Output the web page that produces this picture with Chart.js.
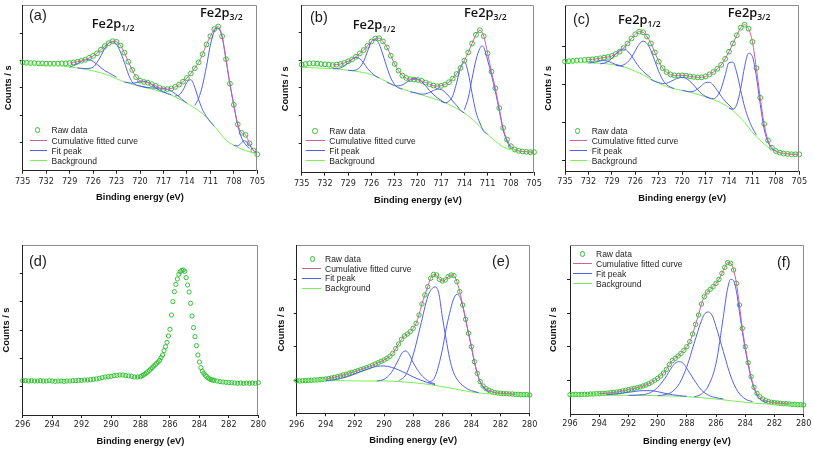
<!DOCTYPE html>
<html><head><meta charset="utf-8">
<script src="https://cdn.jsdelivr.net/npm/chart.js@4.4.1/dist/chart.umd.min.js"></script>
<style>
html,body{margin:0;padding:0;background:#fff;}
#wrap{position:relative;width:813px;height:449px;overflow:hidden;background:#fff;}
#wrap canvas{position:absolute;}
.tag{position:absolute;font-family:'Liberation Sans',Arial,sans-serif;font-size:14.5px;line-height:1;color:#1a1a1a;white-space:nowrap;}
.fe{position:absolute;font-family:'Open Sans','Liberation Sans',sans-serif;font-weight:600;font-size:12.8px;line-height:1;color:#111;white-space:nowrap;}
.fe span{font-size:8.6px;position:relative;top:3px;}
.leg{position:absolute;font-family:'Liberation Sans',Arial,sans-serif;font-size:8.5px;color:#1e1e1e;line-height:12px;height:12px;white-space:nowrap;}
.lline{position:absolute;height:0;border-top:1.3px solid;}
.lcirc{position:absolute;width:3.4px;height:3.4px;border:1.1px solid #33c133;border-radius:50%;}
</style></head><body><div id="wrap"></div>
<script>
// ---------- categories (binding energy, eV) ----------
const eTop = [735,734.5,734,733.5,733,732.5,732,731.5,731,730.5,730,729.5,729,728.5,728,727.5,727,726.5,726,725.5,725,724.5,724,723.5,723,722.5,722,721.5,721,720.5,720,719.5,719,718.5,718,717.5,717,716.5,716,715.5,715,714.5,714,713.5,713,712.5,712,711.5,711,710.5,710,709.5,709,708.5,708,707.5,707,706.5,706,705.5,705];
const eTopBg = [735,734,733,732,731,730,729,728,727,726,725,724,723,722,721,720,719,718,717,716,715,714,713,712,711,710,709,708,707,706,705];
const eBot = [296,295.8,295.6,295.4,295.2,295,294.8,294.6,294.4,294.2,294,293.8,293.6,293.4,293.2,293,292.8,292.6,292.4,292.2,292,291.8,291.6,291.4,291.2,291,290.8,290.6,290.4,290.2,290,289.8,289.6,289.4,289.2,289,288.8,288.6,288.4,288.2,288,287.8,287.6,287.4,287.2,287,286.8,286.6,286.4,286.2,286,285.8,285.6,285.4,285.2,285,284.8,284.6,284.4,284.2,284,283.8,283.6,283.4,283.2,283,282.8,282.6,282.4,282.2,282,281.8,281.6,281.4,281.2,281,280.8,280.6,280.4,280.2,280];
const eBotBg = [296,295,294,293,292,291,290,289,288,287,286,285,284,283,282,281,280];
const eD = [296,295.8,295.6,295.4,295.2,295,294.8,294.6,294.4,294.2,294,293.8,293.6,293.4,293.2,293,292.8,292.6,292.4,292.2,292,291.8,291.6,291.4,291.2,291,290.8,290.6,290.4,290.2,290,289.8,289.6,289.4,289.2,289,288.8,288.6,288.4,288.2,
 288,287.9,287.8,287.7,287.6,287.5,287.4,287.3,287.2,287.1,287,286.9,286.8,286.7,286.6,286.5,286.4,286.3,286.2,286.1,286,285.9,285.8,285.7,285.6,285.5,285.4,285.3,285.2,285.1,285,284.9,284.8,284.7,284.6,284.5,284.4,284.3,284.2,284.1,284,283.9,283.8,283.7,283.6,283.5,283.4,283.3,283.2,283.1,283,
 282.8,282.6,282.4,282.2,282,281.8,281.6,281.4,281.2,281,280.8,280.6,280.4,280.2,280];
const xTicksTop = [735,732,729,726,723,720,717,714,711,708,705];
const xTicksBot = [296,294,292,290,288,286,284,282,280];

// ---------- (a) ----------
const rawA = [332,331,330,330,329,329,328,328,328,328,329,329,330,332,334,337,340,346,352,360,371,382,391,397,395,384,362,334,309,287,276,272,270,265,260,254,250,250,252,257,264,273,284,298,314,332,357,387,412,434,442,412,342,267,202,142,116,110,84,62,50];
const cumA = [330,332,334,337,340,346,352,360,371,382,391,397,395,384,362,334,309,287,276,272,270,265,260,254,250,250,252,257,264,273,284,298,314,332,357,387,412,434,442,412,342,267,202,142,116,110,84,62,50];
const bgA = [328,327,326,324,323,321,318,315,311,306,300,292,282,272,265,259,253,247,240,232,220,207,192,175,150,122,94,78,66,58,52];
const peakEA = [
 [729,728.5,728,727.5,727,726.5,726,725.5,725,724.5,724,723],
 [728,727,726,725.5,725,724.5,724,723.5,723,722.5,722,721.5,721,720.5,720,719],
 [722,721.5,721,720.5,720,719.5,719,718.5,718,717.5,717,716],
 [720,719,718,717.5,717,716.5,716,715.5,715,714.5,714],
 [715.5,715,714.5,714,713.5,713,712.5,712,711.5,711,710.5],
 [713,712.5,712,711.5,711,710.5,710.2,710,709.5,709,708.5,708,707.5,707,706.5,706],
 [708,707.5,707,706.75,706.5,706,705.5,705]];
const peakYA = [
 [318,322,328,335,340,340,335,326,316,307,300,287],
 [315,313,317,332,352,375,391,395,387,364,332,297,272,263,260,254],
 [272,270,268,270,273,274,271,264,255,247,241,233],
 [259,255,253,253,252,249,244,236,227,216,208],
 [229,232,247,271,279,256,218,187,166,150,136],
 [200,222,262,320,385,428,438,437,410,340,265,200,140,100,80,68],
 [78,76,86,92,91,78,62,53]];
const yTicksA = [87,170,255,337,422];

// ---------- (b) ----------
const rawB = [326,328,330,330,329,328,327,326,325,326,328,331,336,342,350,360,370,383,396,405,406,396,378,353,328,308,293,286,282,281,280,277,272,267,263,261,262,266,273,284,298,316,338,363,390,416,430,412,360,305,255,195,135,100,80,70,66,64,63,62,62];
const cumB = [325,326,328,331,336,342,350,360,370,383,396,405,406,396,378,353,328,308,293,286,282,281,280,277,272,267,263,261,262,266,273,284,298,316,338,363,390,416,430,412,360,305,255,195,135,100,80,70,66,64,63,62,62];
const bgB = [318,317,316,315,314,312,309,306,302,296,286,274,262,253,245,238,231,224,216,206,194,180,162,140,116,95,78,69,65,64,63];
const peakEB = [
 [731,730.5,730,729.5,729,728.5,728,727.5,727,726.5,726,725.5,725],
 [729,728.5,728,727.5,727,726.5,726,725.5,725,724.5,724,723.5,723,722.5,722],
 [724,723.5,723,722.5,722,721.5,721,720.5,720,719.5,719,718.5,718,717.5,717,716.5],
 [721,720.5,720,719.5,719,718.5,718,717.5,717,716.5,716,715.5,715,714.5,714],
 [717,716.5,716,715.5,715,714.5,714,713.5,713,712.5,712,711.5,711],
 [714,713.5,713,712.5,712,711.75,711.5,711,710.5,710,709.5,709,708.5,708]];
const peakYB = [
 [314,314,316,322,331,342,348,344,331,314,302,292,286],
 [309,308,310,318,336,366,396,402,388,355,318,286,266,256,252],
 [273,268,263,262,265,272,280,284,282,274,262,248,236,226,218,211],
 [244,242,239,237,238,242,248,252,251,243,231,216,203,188,180],
 [216,211,216,232,271,317,335,301,239,183,150,125,116],
 [190,225,285,340,375,383,378,340,295,245,188,130,95,75]];
const yTicksB = [88,173,256,340,423];

// ---------- (c) ----------
const rawC = [335,336,337,338,339,340,341,342,343,345,347,349,352,358,365,376,390,405,418,426,424,411,390,363,335,315,303,296,293,292,293,292,290,288,287,287,290,296,303,313,325,343,365,390,415,438,447,435,395,315,225,145,95,73,63,58,55,54,53,53,53];
const cumC = [341,342,343,345,347,349,352,358,365,376,390,405,418,426,424,411,390,363,335,315,303,296,293,292,293,292,290,288,287,287,290,296,303,313,325,343,365,390,415,438,447,435,395,315,225,145,95,73,63,58,55,54,53,53,53];
const bgC = [333,333,332,331,330,329,326,322,315,305,295,280,269,259,252,247,242,235,228,219,209,195,175,150,120,95,75,63,57,54,53];
const peakEC = [
 [732,731.5,731,730.5,730,729.5,729,728.5,728,727.5],
 [730.5,730,729.5,729,728.5,728,727.5,727,726.5,726,725.5,725,724.5,724],
 [728.5,728,727.5,727,726.5,726,725.5,725,724.5,724,723.5,723,722.5,722,721.5,721],
 [724,723.5,723,722.5,722,721.5,721,720.5,720,719.5,719,718.5,718,717.5,717,716.5],
 [720,719.5,719,718.5,718,717.5,717,716.5,716,715.5,715,714.5,714,713.5],
 [717,716.5,716,715.5,715,714.5,714,713.5,713,712.5,712,711.5,711,710.5],
 [714,713.5,713,712.5,712,711.5,711,710.5,710,709.5,709,708.5,708]];
const peakYC = [
 [331,332,334,337,338,336,331,326,323,319],
 [328,330,335,345,358,369,373,367,353,335,318,305,295,285],
 [323,322,325,333,347,368,388,397,390,368,337,305,280,265,257,253],
 [281,275,271,268,269,274,280,285,287,284,275,263,249,237,229,224],
 [248,245,243,245,252,262,271,272,263,247,230,215,203,190],
 [228,224,222,230,253,293,332,333,300,247,197,160,133,112],
 [193,190,205,253,320,360,350,290,205,130,90,70,63]];
const yTicksC = [33,150,265,380];

// ---------- (d) ----------
const rawD = [103,103,102,103,102,102,103,102,102,103,102,101,102,102,101,102,102,103,103,104,104,105,105,106,107,108,110,112,114,115,116,118,119,120,120,118,117,116,114,114,
 115,118,120,123,126,130,134,138,142,147,151,155,159,164,172,180,193,205,218,237,257,300,340,370,392,408,422,430,434,435,431,412,390,369,335,297,262,235,208,180,159,142,131,125,119,115,111,108,106,105,104,
 102,100,99,98,97,97,96,95,96,95,96,95,96,95,97];
const yTicksD = [85,170,255,340,425];

// ---------- (e) ----------
const rawE = [98,97,98,98,99,99,100,100,101,102,103,104,106,108,110,112,115,117,120,123,125,128,131,134,137,140,144,148,152,156,160,165,171,180,194,208,222,232,238,245,255,270,295,328,355,380,405,417,415,402,397,400,410,415,413,395,365,325,282,240,200,155,120,95,82,74,69,65,62,61,60,59,59,58,58,57,57,56,56,56,55];
const cumE = [103,104,106,108,110,112,115,117,120,123,125,128,131,134,137,140,144,148,152,156,160,165,171,180,194,208,222,232,238,245,255,270,295,328,355,380,405,417,415,402,397,400,410,415,413,395,365,325,282,240,200,155,120,95,82,74,69,65,62,61,60,59,59,58,58,57];
const bgE = [98,98,98,98,97,97,97,95,92,87,80,72,64,59,57,56,55];
const peakEE = [
 [294,293.5,293,292.5,292,291.5,291,290.5,290,289.5,289,288.5,288,287.5,287,286.5],
 [290.5,290,289.5,289,288.75,288.5,288.25,288,287.5,287,286.5],
 [289,288.5,288,287.5,287,286.75,286.5,286.25,286,285.75,285.5,285.25,285,284.5,284,283.5],
 [287,286.5,286,285.75,285.5,285.25,285,284.8,284.6,284.4,284.2,284,283.8,283.6,283.4,283.2,283,282.8]];
const peakYE = [
 [98,100,104,110,118,127,135,141,142,138,130,120,109,100,92,86],
 [97,102,122,162,182,187,175,152,118,98,88],
 [97,116,175,262,350,372,379,362,290,225,165,125,103,80,68,62],
 [90,110,190,250,300,340,357,350,322,282,240,198,155,120,94,79,70,65]];
const yTicksE = [98,200,300,402];

// ---------- (f) ----------
const rawF = [58,58,59,58,59,59,59,60,60,61,61,62,62,63,64,65,66,67,69,71,73,75,77,79,81,84,87,91,96,101,107,114,123,134,148,160,167,174,182,191,202,217,240,269,297,330,352,366,374,382,392,404,422,440,454,452,432,392,327,257,202,154,112,80,62,52,45,40,37,35,34,33,32,31,31,30,29,29,28,28,27];
const cumF = [61,62,62,63,64,65,66,67,69,71,73,75,77,79,81,84,87,91,96,101,107,114,123,134,148,160,167,174,182,191,202,217,240,269,297,330,352,366,374,382,392,404,422,440,454,452,432,392,327,257,202,154,112,80,62,52,45,40,37,35,34,33,32,31,31,30];
const bgF = [57,57,57,56,56,56,55,54,52,49,45,40,35,31,29,27,26];
const peakEF = [
 [293.5,293,292.5,292,291.5,291,290.5,290,289.5,289,288.5,288],
 [292,291,290.5,290,289.5,289,288.75,288.5,288.25,288,287.5,287,286.5,286,285.5],
 [290,289.5,289,288.5,288,287.5,287,286.75,286.5,286.25,286,285.5,285,284.5,284,283.5],
 [287.5,287,286.5,286,285.5,285.25,285,284.8,284.6,284.4,284.2,284,283.8,283.6,283.4,283.2,283,282.8,282.5]];
const peakYF = [
 [58,60,62,65,68,70,70,67,62,58,55,53],
 [56,58,64,80,107,142,154,157,152,137,102,72,56,49,45],
 [55,58,67,92,142,212,280,302,306,294,262,187,114,67,45,37],
 [51,60,87,152,292,367,404,400,367,307,247,194,147,107,77,57,45,39,34]];
const yTicksF = [100,202,302,404];

const legendLabels = ['Raw data','Cumulative fitted curve','Fit peak','Background'];

// ---------- styles / geometry ----------
const C_RAW = '#33c133', C_CUM = '#d0609a', C_PEAK = '#5060ee', C_BG = '#78f056';
const panels = [
 {id:'a', g:{left:0,top:0,w:270,h:210,padT:1.3,padR:12.7,padB:2,yw:22.7,xh:37.3,tickPad:2.6,xtp:5.1,ytp:2.7,pr:2.4},
  xr:[705,735], xt:xTicksTop, yt:yTicksA, ymax:508,
  raw:[eTop,rawA], cum:[eTop.slice(12),cumA], bg:[eTopBg,bgA], pe:peakEA, py:peakYA},
 {id:'b', g:{left:276,top:0,w:268,h:210,padT:4,padR:8.3,padB:2,yw:25.7,xh:35.3,tickPad:2.2,xtp:2.4,ytp:3.4,pr:2.4},
  xr:[705,735], xt:xTicksTop, yt:yTicksB, ymax:506,
  raw:[eTop,rawB], cum:[eTop.slice(8),cumB], bg:[eTopBg,bgB], pe:peakEB, py:peakYB},
 {id:'c', g:{left:540,top:0,w:273,h:210,padT:2.7,padR:13.7,padB:2,yw:25,xh:36.3,tickPad:1.6,xtp:4.1,ytp:2.4,pr:2.4},
  xr:[705,735], xt:xTicksTop, yt:yTicksC, ymax:507,
  raw:[eTop,rawC], cum:[eTop.slice(6),cumC], bg:[eTopBg,bgC], pe:peakEC, py:peakYC},
 {id:'d', g:{left:0,top:228,w:270,h:221,padT:17,padR:11.7,padB:1,yw:22.7,xh:33,tickPad:1.6,xtp:0.7,ytp:0.7,pr:2.1},
  xr:[280,296], xt:xTicksBot, yt:yTicksD, ymax:510,
  raw:[eD,rawD]},
 {id:'e', g:{left:272,top:228,w:268,h:221,padT:17,padR:8.3,padB:1,yw:24.7,xh:34.7,tickPad:2.6,xtp:1.7,ytp:4.1,pr:2.2},
  xr:[280,296], xt:xTicksBot, yt:yTicksE, ymax:505,
  raw:[eBot,rawE], cum:[eBot.slice(10,76),cumE], bg:[eBotBg,bgE], pe:peakEE, py:peakYE},
 {id:'f', g:{left:540,top:228,w:273,h:221,padT:17,padR:8.7,padB:1,yw:30,xh:34,tickPad:1.6,xtp:1.4,ytp:8.2,pr:2.2},
  xr:[280,296], xt:xTicksBot, yt:yTicksF, ymax:507,
  raw:[eBot,rawF], cum:[eBot.slice(10,76),cumF], bg:[eBotBg,bgF], pe:peakEF, py:peakYF}
];

const tags = [
 {t:'(a)',x:29,y:8.3},{t:'(b)',x:310,y:10.3},{t:'(c)',x:573,y:12.3},
 {t:'(d)',x:29,y:254.3},{t:'(e)',x:492,y:254.3},{t:'(f)',x:777,y:255.3}];
const feLabels = [
 {m:'Fe2p',s:'1/2',x:91.7,y:16.8},{m:'Fe2p',s:'3/2',x:200,y:5.6},
 {m:'Fe2p',s:'1/2',x:352.7,y:17.6},{m:'Fe2p',s:'3/2',x:464,y:5.8},
 {m:'Fe2p',s:'1/2',x:618,y:12.6},{m:'Fe2p',s:'3/2',x:727.7,y:5.6}];
const legends = [
 {l:30,r:47,cx:37.7,tx:51.5,rows:[130,140.7,150.7,161]},
 {l:306,r:325,cx:315,tx:329.3,rows:[131,141,151,161]},
 {l:570,r:587,cx:577.7,tx:591.7,rows:[131,141,151,161]},
 {l:302.3,r:320.7,cx:312.3,tx:325,rows:[259,269,278.3,288.3]},
 {l:573.3,r:591.7,cx:582.7,tx:596,rows:[254,264,274,284]}];

const TICK_FONT = "'Liberation Sans Narrow','Arial Narrow','DejaVu Sans Condensed','Liberation Sans',Arial,sans-serif";
const TXT_FONT = "'Liberation Sans',Arial,sans-serif";

const framePlugin = {
  id:'frame',
  afterDraw(chart){
    const {ctx, chartArea:a} = chart;
    ctx.save();
    ctx.strokeStyle = '#8c8c8c'; ctx.lineWidth = 1;
    const t = Math.round(a.top)+0.5, r = Math.round(a.right)-0.5;
    ctx.beginPath();
    ctx.moveTo(Math.round(a.left), t); ctx.lineTo(r, t); ctx.lineTo(r, Math.round(a.bottom));
    ctx.stroke();
    ctx.restore();
  }
};

function pts(xs, ys){ return xs.map((x,i)=>({x:x, y:ys[i]})); }
const wrap = document.getElementById('wrap');

panels.forEach(p=>{
  const g = p.g;
  const cv = document.createElement('canvas');
  cv.width = g.w; cv.height = g.h;
  cv.style.left = g.left+'px'; cv.style.top = g.top+'px';
  cv.style.width = g.w+'px'; cv.style.height = g.h+'px';
  wrap.appendChild(cv);
  const ds = [];
  const lineBase = {showLine:true, pointRadius:0, borderWidth:1, cubicInterpolationMode:'monotone', fill:false};
  if (p.cum) ds.push(Object.assign({data:pts(p.cum[0],p.cum[1]), borderColor:C_CUM, order:0}, lineBase));
  if (p.pe) p.pe.forEach((e,i)=>ds.push(Object.assign({data:pts(e,p.py[i]), borderColor:C_PEAK, order:1}, lineBase)));
  if (p.bg) ds.push(Object.assign({data:pts(p.bg[0],p.bg[1]), borderColor:C_BG, order:2}, lineBase));
  ds.push({data:pts(p.raw[0],p.raw[1]), showLine:false, pointStyle:'circle', pointRadius:g.pr, pointBorderWidth:1,
           borderColor:C_RAW, pointBorderColor:C_RAW, backgroundColor:'rgba(0,0,0,0)', pointBackgroundColor:'rgba(0,0,0,0)', order:3, clip:false});
  new Chart(cv, {
    type:'scatter',
    data:{datasets:ds},
    plugins:[framePlugin],
    options:{
      responsive:false, animation:false, devicePixelRatio:1, events:[],
      layout:{padding:{left:0, top:g.padT, right:g.padR, bottom:g.padB}},
      plugins:{legend:{display:false}, tooltip:{enabled:false}},
      scales:{
        x:{type:'linear', reverse:true, min:p.xr[0], max:p.xr[1],
           afterBuildTicks:s=>{ s.ticks = p.xt.map(v=>({value:v})); },
           afterFit:s=>{ s.height = g.xh; },
           ticks:{autoSkip:false, maxRotation:0, padding:g.tickPad, color:'#1e1e1e', font:{family:TICK_FONT, size:9}, callback:v=>String(v)},
           grid:{display:true, drawOnChartArea:false, drawTicks:true, tickLength:3, color:'#222', lineWidth:1},
           border:{display:true, color:'#222', width:1},
           title:{display:true, text:'Binding energy (eV)', color:'#111', font:{family:TXT_FONT, size:9.3, weight:'bold'}, padding:{top:0, bottom:g.xtp}}},
        y:{type:'linear', min:0, max:p.ymax,
           afterBuildTicks:s=>{ s.ticks = p.yt.map(v=>({value:v})); },
           afterFit:s=>{ s.width = g.yw; },
           ticks:{display:false},
           grid:{display:true, drawOnChartArea:false, drawTicks:true, tickLength:3, color:'#222', lineWidth:1},
           border:{display:true, color:'#222', width:1},
           title:{display:true, text:'Counts / s', color:'#111', font:{family:TXT_FONT, size:9.3, weight:'bold'}, padding:{top:g.ytp, bottom:0}}}
      }
    }
  });
});

// panel tags
tags.forEach(t=>{
  const d = document.createElement('div'); d.className='tag'; d.textContent=t.t;
  d.style.left=t.x+'px'; d.style.top=t.y+'px'; wrap.appendChild(d);
});
// Fe2p labels
feLabels.forEach(t=>{
  const d = document.createElement('div'); d.className='fe';
  d.appendChild(document.createTextNode(t.m));
  const s = document.createElement('span'); s.textContent=t.s; d.appendChild(s);
  d.style.left=t.x+'px'; d.style.top=t.y+'px'; wrap.appendChild(d);
});
// legends
const legColors = [null, C_CUM, C_PEAK, C_BG];
legends.forEach(L=>{
  L.rows.forEach((y,i)=>{
    if (i===0){
      const c = document.createElement('div'); c.className='lcirc';
      c.style.left=(L.cx-2.8)+'px'; c.style.top=(y-2.8)+'px'; wrap.appendChild(c);
    } else {
      const ln = document.createElement('div'); ln.className='lline';
      ln.style.left=L.l+'px'; ln.style.width=(L.r-L.l)+'px'; ln.style.top=(y-0.6)+'px';
      ln.style.borderTopColor=legColors[i]; wrap.appendChild(ln);
    }
    const tx = document.createElement('div'); tx.className='leg'; tx.textContent=legendLabels[i];
    tx.style.left=L.tx+'px'; tx.style.top=(y-6)+'px'; wrap.appendChild(tx);
  });
});
</script></body></html>
